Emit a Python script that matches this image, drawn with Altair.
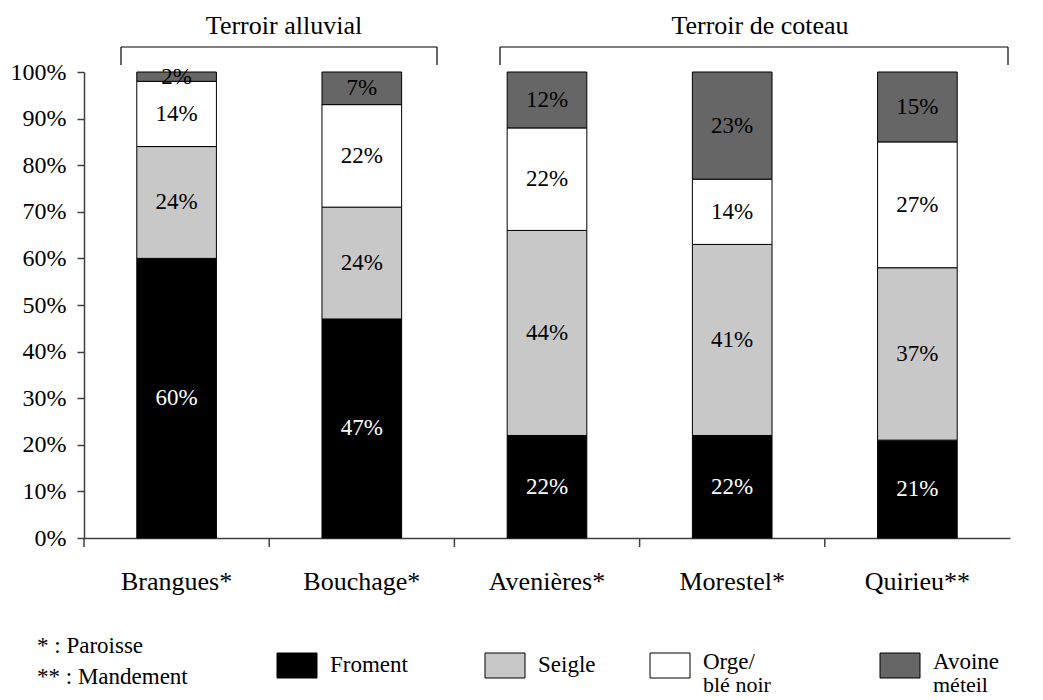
import altair as alt
import pandas as pd

# Part des céréales dans la production, par paroisse / mandement
communes = ["Brangues*", "Bouchage*", "Avenières*", "Morestel*", "Quirieu**"]
cultures = ["Froment", "Seigle", "Orge/ blé noir", "Avoine méteil"]
froment = [60, 47, 22, 22, 21]
seigle = [24, 24, 44, 41, 37]
orge = [14, 22, 22, 14, 27]
avoine = [2, 7, 12, 23, 15]
y_ticks = [0, 10, 20, 30, 40, 50, 60, 70, 80, 90, 100]

couleurs = ["#000000", "#c8c8c8", "#ffffff", "#666666"]
FONT = "Liberation Serif"
AXIS = "#404040"
W, H = 926, 466

# stacked segments, bottom to top
rows = []
for i, commune in enumerate(communes):
    base = 0
    for culture, serie in zip(cultures, [froment, seigle, orge, avoine]):
        v = serie[i]
        rows.append({
            "commune": commune,
            "culture": culture,
            "debut": base,
            "fin": base + v,
            "milieu": base + v / 2,
            "label": f"{v}%",
        })
        base += v
df = pd.DataFrame(rows)

pad_inner = 0.57
x_scale = alt.Scale(domain=communes, paddingInner=pad_inner, paddingOuter=pad_inner / 2)
step = W / len(communes)

x_enc = alt.X(
    "commune:N", sort=communes, scale=x_scale,
    axis=alt.Axis(title=None, labelAngle=0, ticks=False, domainColor=AXIS,
                  domainWidth=1.5, labelFont=FONT, labelFontSize=26,
                  labelColor="black", labelPadding=30),
)
y_scale = alt.Scale(domain=[0, 100], nice=False)

base = alt.Chart(df)

barres = base.mark_bar(stroke="black", strokeWidth=1).encode(
    x=x_enc,
    y=alt.Y("debut:Q", scale=y_scale,
            axis=alt.Axis(title=None, values=y_ticks, labelExpr="datum.value + '%'",
                          grid=False, tickSize=7, tickColor=AXIS, tickWidth=1.5,
                          domainColor=AXIS, domainWidth=1.5, labelFont=FONT,
                          labelFontSize=24, labelColor="black", labelPadding=11)),
    y2="fin:Q",
    color=alt.Color("culture:N", scale=alt.Scale(domain=cultures, range=couleurs), legend=None),
)

etiquettes = base.mark_text(font=FONT, fontSize=23, baseline="middle").encode(
    x=alt.X("commune:N", sort=communes, scale=x_scale),
    y=alt.Y("milieu:Q", scale=y_scale),
    text="label:N",
    color=alt.condition(alt.datum.culture == "Froment", alt.value("white"), alt.value("black")),
)

# x-axis ticks between categories
graduations = alt.Chart(pd.DataFrame({"commune": communes})).mark_rule(
    color=AXIS, strokeWidth=1.5, xOffset=-step / 2
).encode(
    x=alt.X("commune:N", sort=communes, scale=x_scale),
    y=alt.value(H), y2=alt.value(H + 9),
)

one = alt.Data(values=[{"k": 0}])


def texte(t, x, y, size=22, align="center"):
    return alt.Chart(one).mark_text(
        text=t, font=FONT, fontSize=size, align=align, baseline="middle", color="black"
    ).encode(x=alt.value(x), y=alt.value(y))


def regle(x, x2, y, y2):
    return alt.Chart(one).mark_rule(color="black", strokeWidth=1.2).encode(
        x=alt.value(x), x2=alt.value(x2), y=alt.value(y), y2=alt.value(y2)
    )


def accolade(x0, x1, y_top, y_bot, titre, x_titre):
    return [
        regle(x0, x1, y_top, y_top),
        regle(x0, x0, y_top, y_bot),
        regle(x1, x1, y_top, y_bot),
        texte(titre, x_titre, y_top - 21, size=26),
    ]


annotations = []
annotations += accolade(37, 353, -25, -7, "Terroir alluvial", 200)
annotations += accolade(416, 924, -25, -7, "Terroir de coteau", 676)

# notes
annotations.append(texte("* : Paroisse", -47, 574, size=23, align="left"))
annotations.append(texte("** : Mandement", -47, 605, size=23, align="left"))

# legend
legende_x = [193, 401, 566, 796]
for (lx, culture, coul) in zip(legende_x, cultures, couleurs):
    annotations.append(
        alt.Chart(one).mark_rect(fill=coul, stroke="black", strokeWidth=1).encode(
            x=alt.value(lx), x2=alt.value(lx + 40), y=alt.value(581), y2=alt.value(606)
        )
    )
    lignes = culture.split(" ", 1) if " " in culture else [culture]
    if len(lignes) == 1:
        annotations.append(texte(lignes[0], lx + 53, 593, size=23, align="left"))
    else:
        annotations.append(texte(lignes[0], lx + 53, 590, size=23, align="left"))
        annotations.append(texte(lignes[1], lx + 53, 613, size=22, align="left"))

chart = alt.layer(barres, etiquettes, graduations, *annotations).properties(
    width=W, height=H,
    autosize=alt.AutoSizeParams(type="none"),
    padding={"left": 84, "top": 72, "right": 33, "bottom": 162},
    background="white",
).configure_view(stroke=None)

chart.save("out.html", embed_options={"renderer": "svg", "actions": False})
